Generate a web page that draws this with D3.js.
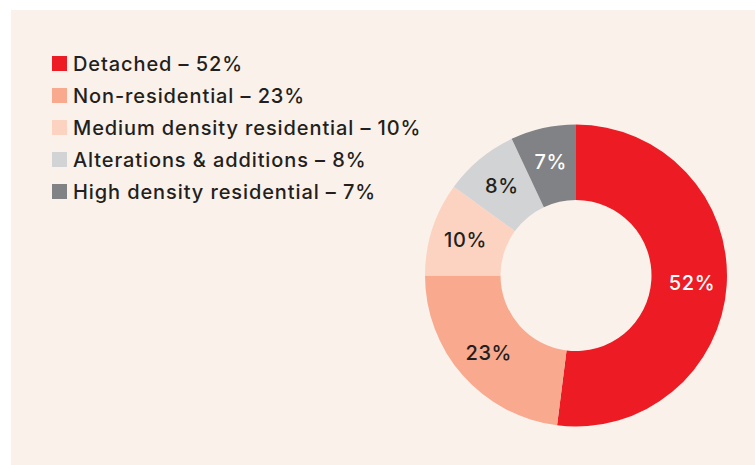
<!DOCTYPE html>
<html>
<head>
<meta charset="utf-8">
<script src="https://cdn.jsdelivr.net/npm/d3@7"></script>
<style>
  body { margin: 0; background: #fff; }
  svg { display: block; }
</style>
</head>
<body>
<div id="chart"></div>
<script>
// data
var categories = ["Detached", "Non-residential", "Medium density residential", "Alterations & additions", "High density residential"];
var shares = [52, 23, 10, 8, 7];
var colours = ["#ed1c24", "#f8a98e", "#fcd3c1", "#d1d3d4", "#808285"];
var labelColours = ["#ffffff", "#231f20", "#231f20", "#231f20", "#ffffff"];

var width = 755, height = 465;
var font = "Inter, 'DejaVu Sans', sans-serif";

var svg = d3.select("#chart").append("svg")
	.attr("width", width).attr("height", height);

// beige panel
svg.append("rect").attr("x", 11).attr("y", 10)
	.attr("width", width - 11).attr("height", height - 10)
	.attr("fill", "#fbf1eb");

var cx = 576, cy = 275.5;
var outerR = 151, innerR = 75.5;

var pie = d3.pie().sort(null).value(function(d) { return d; });
var arc = d3.arc().innerRadius(innerR).outerRadius(outerR);
var labelArc = d3.arc().innerRadius(innerR + 3).outerRadius(outerR + 3);

var colour = d3.scaleOrdinal().domain(categories).range(colours);

var g = svg.append("g").attr("transform", "translate(" + cx + "," + cy + ")");
var arcs = pie(shares);

g.selectAll("path.slice").data(arcs).enter().append("path")
	.attr("class", "slice")
	.attr("d", arc)
	.attr("fill", function(d, i) { return colour(categories[i]); });

// percentage labels on the ring
g.selectAll("text.pct").data(arcs).enter().append("text")
	.attr("class", "pct")
	.attr("transform", function(d) {
		var c = labelArc.centroid(d);
		return "translate(" + c[0] + "," + c[1] + ")";
	})
	.attr("text-anchor", "middle")
	.attr("dy", "0.36em")
	.attr("font-family", font)
	.attr("font-size", "20px")
	.attr("font-weight", 500)
	.attr("letter-spacing", "0.6px")
	.attr("fill", function(d, i) { return labelColours[i]; })
	.text(function(d) { return d.data + "%"; });

// legend
var legendX = 52, legendY = 56, rowH = 32, box = 15;
var legend = svg.append("g");
var rows = legend.selectAll("g").data(categories).enter().append("g")
	.attr("transform", function(d, i) { return "translate(" + legendX + "," + (legendY + rowH * i) + ")"; });

rows.append("rect")
	.attr("width", box).attr("height", box)
	.attr("fill", function(d) { return colour(d); });

rows.append("text")
	.attr("x", 21).attr("y", box)
	.attr("font-family", font)
	.attr("font-size", "20px")
	.attr("font-weight", 500)
	.attr("letter-spacing", "0.9px")
	.attr("fill", "#231f20")
	.text(function(d, i) { return d + " \u2013 " + shares[i] + "%"; });
</script>
</body>
</html>
